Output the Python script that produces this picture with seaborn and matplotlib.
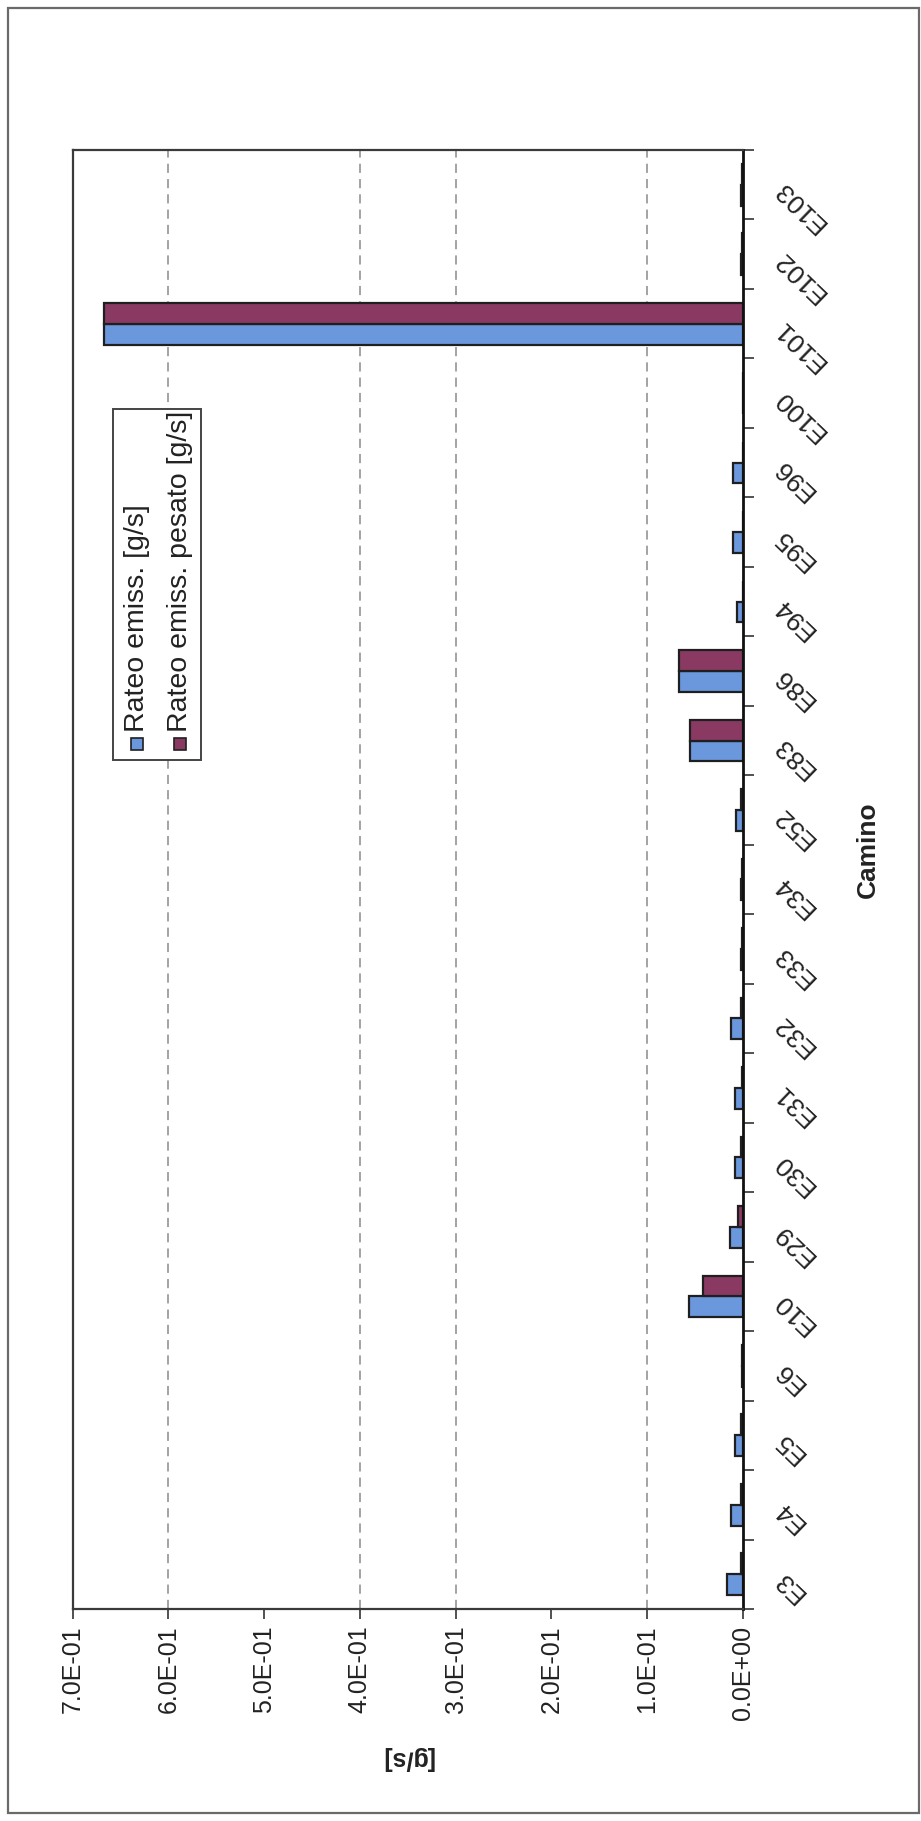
import numpy as np
import pandas as pd
import matplotlib
matplotlib.use("Agg")
import matplotlib.pyplot as plt
from matplotlib.patches import Rectangle
from matplotlib.ticker import FuncFormatter, FixedLocator
import seaborn as sns

# --- data -------------------------------------------------------------
camini = ["E3", "E4", "E5", "E6", "E10", "E29", "E30", "E31", "E32", "E33",
          "E34", "E52", "E83", "E86", "E94", "E95", "E96", "E100", "E101",
          "E102", "E103"]
rateo = [0.0163, 0.0127, 0.0078, 0.0012, 0.0565, 0.0131, 0.0078, 0.0078,
         0.0127, 0.0015, 0.0015, 0.0067, 0.0554, 0.0670, 0.0060, 0.0105,
         0.0105, 0.0, 0.667, 0.0020, 0.0020]
rateo_pesato = [0.0018, 0.0018, 0.0015, 0.0010, 0.0417, 0.0046, 0.0015,
                0.0005, 0.0020, 0.0003, 0.0003, 0.0015, 0.0554, 0.0670,
                0.0, 0.0, 0.0, 0.0, 0.667, 0.0003, 0.0003]
serie = ["Rateo emiss. [g/s]", "Rateo emiss. pesato [g/s]"]
x_ticks = [0.0, 0.1, 0.2, 0.3, 0.4, 0.5, 0.6, 0.7]
grid_values = [0.1, 0.3, 0.4, 0.6]

df = pd.DataFrame({
    "Camino": camini * 2,
    "Valore": rateo + rateo_pesato,
    "Serie": [serie[0]] * len(camini) + [serie[1]] * len(camini),
})

# --- style ------------------------------------------------------------
sns.set_style("white")
plt.rcParams["font.family"] = ["Liberation Sans", "DejaVu Sans"]
colori = ["#6b97dd", "#8a3962"]
edge = "#1f1f1f"
txt = "#222222"

W, H = 921, 1821
fig = plt.figure(figsize=(W / 100, H / 100), dpi=100)


def fx(px):
    return px / W


def fy(py):
    return 1 - py / H


# page frame
fig.patches.append(Rectangle((fx(8), fy(1813)), fx(911), 1805 / H,
                             transform=fig.transFigure, fill=False,
                             edgecolor="#6a6a6a", linewidth=1.6))

# plot area
ax_l, ax_r, ax_t, ax_b = 72.7, 742.7, 150, 1609
ax = fig.add_axes([fx(ax_l), fy(ax_b), (ax_r - ax_l) / W, (ax_b - ax_t) / H])

sns.barplot(data=df, y="Camino", x="Valore", hue="Serie", orient="h",
            order=camini, hue_order=serie, palette=colori, width=0.6,
            edgecolor=edge, linewidth=1.6, saturation=1, legend=False,
            ax=ax)

ax.set_xlim(0.7, 0.0)
ax.set_ylim(-0.5, len(camini) - 0.5)

for v in grid_values:
    ax.axvline(v, color="#8a8a8a", linewidth=1.1, linestyle=(0, (6, 4)),
               zorder=0)

for name, sp in ax.spines.items():
    sp.set_visible(True)
    sp.set_color("#3a3a3a")
    sp.set_linewidth(1.6)
ax.spines["right"].set_color("#111111")
ax.spines["right"].set_linewidth(2.0)

# value axis (bottom)
ax.xaxis.set_major_locator(FixedLocator(x_ticks))
ax.xaxis.set_major_formatter(FuncFormatter(lambda v, p: f"{v:.1E}"))
ax.tick_params(axis="x", which="major", bottom=True, direction="out",
               length=7, width=1.2, color="#333333", pad=5, labelsize=18,
               labelcolor=txt)
for lbl in ax.get_xticklabels():
    lbl.set_rotation(90)
    lbl.set_va("top")
    lbl.set_ha("center")

# category axis (right)
ax.yaxis.tick_right()
ax.yaxis.set_label_position("right")
ax.set_yticks(np.arange(len(camini)))
ax.set_yticklabels(camini)
ax.set_yticks(np.arange(-0.5, len(camini), 1.0), minor=True)
ax.tick_params(axis="y", which="major", left=False, right=True, length=0,
               pad=25, labelsize=19, labelcolor=txt)
ax.tick_params(axis="y", which="minor", left=False, right=True,
               direction="out", length=8, width=1.2, color="#333333")
for lbl in ax.get_yticklabels():
    lbl.set_rotation(136)
    lbl.set_rotation_mode("anchor")
    lbl.set_ha("right")
    lbl.set_va("center")

ax.set_xlabel("[g/s]", fontsize=18, fontweight="bold", rotation=180,
              color=txt, va="center", ha="center")
ax.xaxis.set_label_coords(0.5, (ax_b - 1758) / (ax_b - ax_t))
ax.set_ylabel("Camino", fontsize=19, fontweight="bold", rotation=90,
              color=txt, va="center", ha="center")
ax.yaxis.set_label_coords((868 - ax_l) / (ax_r - ax_l),
                          (ax_b - 850) / (ax_b - ax_t))

# legend with vertical entries
lx0, lx1, ly0, ly1 = 113, 201, 409, 760
fig.patches.append(Rectangle((fx(lx0), fy(ly1)), fx(lx1 - lx0),
                             (ly1 - ly0) / H, transform=fig.transFigure,
                             facecolor="white", edgecolor="#444444",
                             linewidth=1.4, zorder=5))
for i, (name, col) in enumerate(zip(serie, colori)):
    cx = 137 + i * 43
    fig.patches.append(Rectangle((fx(cx - 6), fy(750)), fx(12), 12 / H,
                                 transform=fig.transFigure, facecolor=col,
                                 edgecolor=edge, linewidth=1.2, zorder=6))
    fig.text(fx(cx), fy(732), name, rotation=90, ha="center", va="bottom",
             fontsize=20.5, color=txt, zorder=6)

fig.savefig("out.png", dpi=100, facecolor="white")
